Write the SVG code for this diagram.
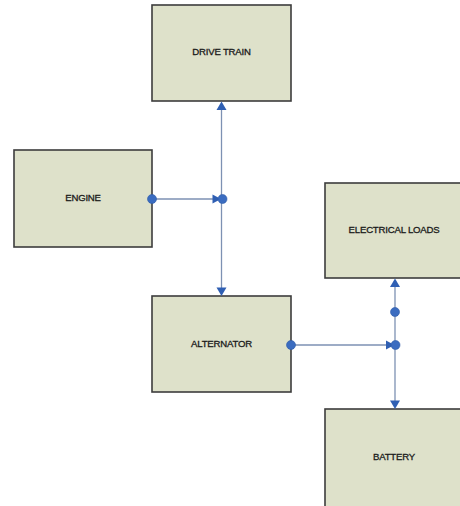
<svg xmlns="http://www.w3.org/2000/svg" width="460" height="506" viewBox="0 0 460 506">
<style>
.box{fill:#dee1ca;stroke:#3c3c3c;stroke-width:1.6}
.lbl{font-family:"Liberation Sans",Arial,sans-serif;font-size:9.6px;fill:#1a1a1a;stroke:#1a1a1a;stroke-width:0.3px;text-anchor:middle;letter-spacing:-0.2px}
.ln{stroke:#7d91b3;stroke-width:1.3;fill:none}
.dot{fill:#3b6cc0;stroke:#2d5aa8;stroke-width:0.6}
.ah{fill:#2f5fb3}
</style>
<rect width="460" height="506" fill="#ffffff"/>
<g id="drive-train"><rect class="box" x="152" y="5" width="139" height="96"/><text class="lbl" x="221.5" y="55">DRIVE TRAIN</text></g>
<g id="engine"><rect class="box" x="14" y="150" width="138" height="97"/><text class="lbl" x="83" y="200.5">ENGINE</text></g>
<g id="electrical-loads"><rect class="box" x="325" y="183" width="140" height="95"/><text class="lbl" x="394" y="233">ELECTRICAL LOADS</text></g>
<g id="alternator"><rect class="box" x="152" y="296" width="139" height="96"/><text class="lbl" x="221.5" y="347">ALTERNATOR</text></g>
<g id="battery"><rect class="box" x="325" y="409" width="140" height="98"/><text class="lbl" x="394" y="460">BATTERY</text></g>
<g id="connectors">
<line class="ln" x1="221.5" y1="109" x2="221.5" y2="288"/>
<line class="ln" x1="152" y1="199" x2="214" y2="199"/>
<polygon class="ah" points="221.5,101.5 216.5,110 226.5,110"/>
<polygon class="ah" points="221.5,296 216.5,287.5 226.5,287.5"/>
<polygon class="ah" points="221,199 212.5,194.5 212.5,203.5"/>
<circle class="dot" cx="152" cy="199" r="4.5"/>
<circle class="dot" cx="222.5" cy="199" r="4.5"/>
<line class="ln" x1="395" y1="286" x2="395" y2="401"/>
<line class="ln" x1="291" y1="345" x2="388" y2="345"/>
<polygon class="ah" points="395,278.5 390,287 400,287"/>
<polygon class="ah" points="395,409 390,400.5 400,400.5"/>
<polygon class="ah" points="394.5,345 386,340.5 386,349.5"/>
<circle class="dot" cx="291" cy="345" r="4.5"/>
<circle class="dot" cx="395.5" cy="345" r="4.5"/>
<circle class="dot" cx="395" cy="312" r="4.5"/>
</g>
</svg>
